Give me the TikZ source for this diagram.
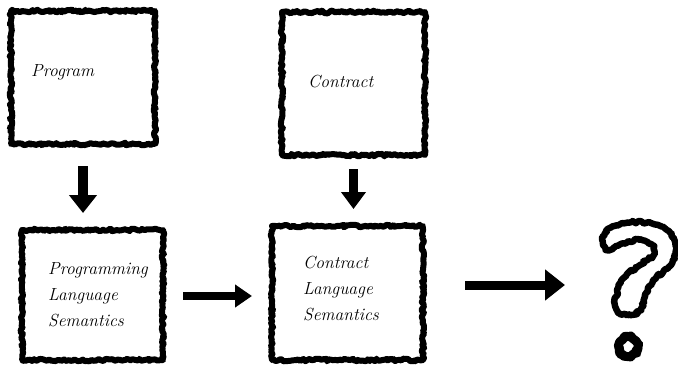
\documentclass[tikz,border=0pt]{standalone}
\usetikzlibrary{decorations.pathmorphing,arrows.meta}
\begin{document}
\begin{tikzpicture}[x=1pt,y={(0pt,-1pt)},
  sketch/.style={decorate, decoration={random steps, segment length=2pt, amplitude=1.3pt}, line join=round},
  box/.style={draw=black, line width=6pt, sketch, inner sep=0pt, minimum width=#1},
  lbl/.style={font=\fontsize{17.5}{26}\selectfont\itshape, align=left, text=black, inner sep=0pt, anchor=west},
  bigarrow/.style={draw=black, line width=#1, line cap=butt}
]
\useasboundingbox (0,0) rectangle (678,367);
% boxes
\node[box=144pt, minimum height=133pt] (prog) at (83,77.5) {};
\node[box=143pt, minimum height=143pt] (con) at (353.5,83.5) {};
\node[box=141pt, minimum height=130pt] (pls) at (92.5,295) {};
\node[box=151pt, minimum height=134pt] (cls) at (347.5,293) {};
% labels
\node[lbl] (progt) at (31,72) {Program};
\node[lbl] (cont) at (308,82) {Contract};
\node[lbl] (plst) at (48,295) {Programming\\Language\\Semantics};
\node[lbl] (clst) at (303,289) {Contract\\Language\\Semantics};
% helper coordinates
\coordinate (h) at (220,296);
\coordinate (qm) at (565,285);
% arrows
\draw[bigarrow=10pt, -{Triangle[length=18pt,width=27pt]}, shorten <=19pt, shorten >=14pt]
  (prog.south) -- (prog.south |- pls.north);
\draw[bigarrow=9pt, -{Triangle[length=17pt,width=24pt]}, shorten <=11pt, shorten >=14pt]
  (con.south) -- (con.south |- cls.north);
\draw[bigarrow=8pt, -{Triangle[length=17pt,width=22pt]}, shorten <=17pt, shorten >=17pt]
  (pls.east |- h) -- (cls.west |- h);
\draw[bigarrow=9pt, -{Triangle[length=20pt,width=30pt]}, shorten <=39pt]
  (cls.east |- qm) -- (qm);
% question mark
\draw[draw=black, line width=6.5pt, sketch]
  plot[smooth cycle, tension=0.6] coordinates {
  (602.5,240) (610,228) (626.7,222.5) (653.3,224) (670.5,233.3) (676,250)
  (669,266.7) (653.3,280) (645,296.7) (641,309) (630,315) (617.5,311)
  (616,296.7) (623.3,278.3) (640,265) (653.3,255) (651.7,245) (640,240)
  (623.3,243.3) (608.3,250)};
\draw[draw=black, line width=9pt, sketch] (628.3,346.7) circle[radius=9.5pt];
\end{tikzpicture}
\end{document}
